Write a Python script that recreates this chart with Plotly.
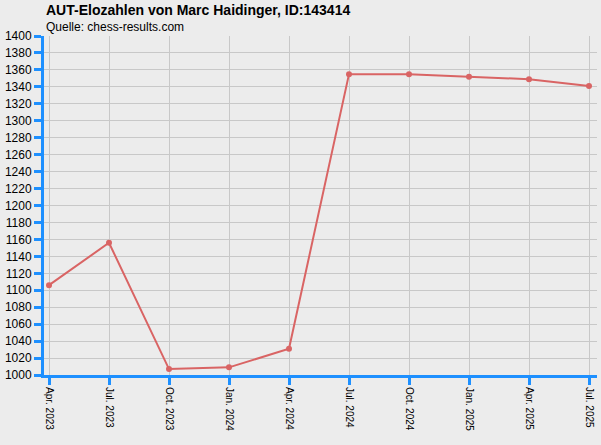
import plotly.graph_objects as go

quarters = ["Apr. 2023", "Jul. 2023", "Oct. 2023", "Jan. 2024", "Apr. 2024",
            "Jul. 2024", "Oct. 2024", "Jan. 2025", "Apr. 2025", "Jul. 2025"]
elo = [1106, 1156, 1007, 1009, 1031, 1355, 1355, 1352, 1349, 1341]
y_ticks = list(range(1000, 1401, 20))

fig = go.Figure()
fig.add_trace(go.Scatter(
    x=quarters, y=elo, mode="lines+markers",
    line=dict(color="#d96464", width=2),
    marker=dict(color="#d96464", size=6),
    hoverinfo="skip",
))

fig.update_layout(
    width=601, height=445,
    margin=dict(l=44, r=4, t=36, b=70, autoexpand=False),
    paper_bgcolor="#ececec", plot_bgcolor="#ececec",
    font=dict(family="Liberation Sans, Arial, sans-serif", color="#000000", size=12),
    showlegend=False,
    annotations=[
        dict(text="<b>AUT-Elozahlen von Marc Haidinger, ID:143414</b>",
             x=0, y=1, xref="paper", yref="paper", xanchor="left", yanchor="bottom",
             yshift=16, showarrow=False, font=dict(size=14)),
        dict(text="Quelle: chess-results.com",
             x=0, y=1, xref="paper", yref="paper", xanchor="left", yanchor="bottom",
             yshift=0, showarrow=False, font=dict(size=12)),
    ],
)
fig.update_xaxes(
    type="category", range=[-5/60, 9 + 8/60], automargin=False,
    tickangle=90, tickfont=dict(size=10),
    showgrid=True, gridcolor="#c8c8c8", gridwidth=1,
    showline=True, linecolor="#1e90ff", linewidth=3,
    ticks="outside", tickcolor="#1e90ff", ticklen=7, tickwidth=3,
    zeroline=False,
)
fig.update_yaxes(
    range=[1000, 1400], tickvals=y_ticks, ticktext=[str(v) for v in y_ticks],
    tickfont=dict(size=12), automargin=False,
    showgrid=True, gridcolor="#c8c8c8", gridwidth=1,
    showline=True, linecolor="#1e90ff", linewidth=3,
    ticks="outside", tickcolor="#1e90ff", ticklen=7, tickwidth=3,
    zeroline=False,
)

fig.write_html(
    "out.html",
    config={"displayModeBar": False},
    post_script="document.body.style.margin='0';document.body.style.overflow='hidden';",
)
